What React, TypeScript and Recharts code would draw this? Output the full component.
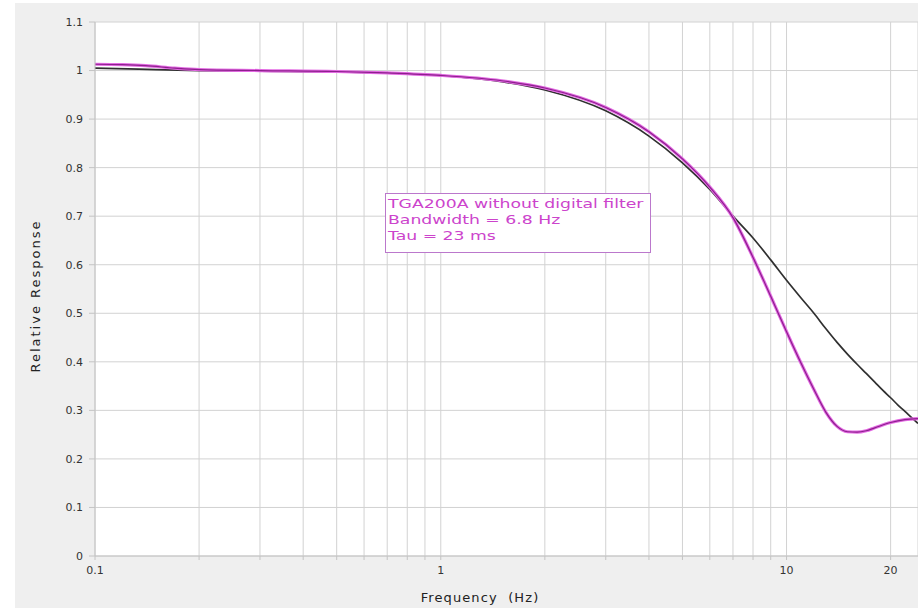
import { LineChart, Line, XAxis, YAxis, CartesianGrid, Label } from 'recharts';

// frequency (Hz) and relative response
const firstOrderFreq = [0.1, 0.15, 0.2, 0.3, 0.5, 0.7, 1, 1.5, 2, 3, 4, 5, 6, 7, 8, 9, 10, 11, 12, 13, 14, 15, 16, 17, 18, 19, 20, 21, 22, 23, 24];
const firstOrderResp = [1.005, 1.002, 1.0, 0.999, 0.997, 0.995, 0.99, 0.977, 0.96, 0.917, 0.865, 0.81, 0.755, 0.70, 0.655, 0.61, 0.568, 0.532, 0.50, 0.468, 0.44, 0.416, 0.395, 0.376, 0.358, 0.341, 0.326, 0.311, 0.298, 0.285, 0.273];

const tgaFreq = [0.1, 0.12, 0.14, 0.17, 0.2, 0.3, 0.5, 0.7, 1, 1.5, 2, 3, 4, 5, 6, 7, 8, 9, 10, 11, 12, 13, 14, 15, 16, 17, 18, 20, 22, 24];
const tgaResp = [1.013, 1.012, 1.01, 1.005, 1.002, 1.0, 0.998, 0.995, 0.99, 0.979, 0.964, 0.924, 0.874, 0.818, 0.76, 0.697, 0.615, 0.535, 0.462, 0.398, 0.343, 0.296, 0.267, 0.256, 0.255, 0.258, 0.264, 0.275, 0.281, 0.283];

const xTicks = [0.1, 0.2, 0.3, 0.4, 0.5, 0.6, 0.7, 0.8, 0.9, 1, 2, 3, 4, 5, 6, 7, 8, 9, 10, 20];
const xLabelled = [0.1, 1, 10, 20];
const yTicks = [0, 0.1, 0.2, 0.3, 0.4, 0.5, 0.6, 0.7, 0.8, 0.9, 1, 1.1];

const noteLines = ['TGA200A without digital filter', 'Bandwidth = 6.8 Hz', 'Tau = 23 ms'];

const firstOrder = firstOrderFreq.map((f, i) => ({ f, r: firstOrderResp[i] }));
const tga = tgaFreq.map((f, i) => ({ f, r: tgaResp[i] }));

const font = '"DejaVu Sans", sans-serif';
const tickStyle = { fontSize: 11, fill: '#333', fontFamily: font };

export default function App() {
  return (
    <div style={{ position: 'fixed', left: 0, top: 0, width: 918, height: 608, background: '#fff', overflow: 'hidden' }}>
      <div style={{ position: 'absolute', left: 15, top: 3, width: 903, height: 605, background: '#efefef' }} />
      <div style={{ position: 'absolute', left: 0, top: 0 }}>
        <LineChart width={918} height={608} margin={{ top: 22, right: 0, bottom: 0, left: 0 }}>
          <CartesianGrid fill="#fff" stroke="#d2d2d2" strokeWidth={1} />
          <XAxis
            dataKey="f"
            type="number"
            scale="log"
            domain={[0.1, 24]}
            allowDataOverflow
            ticks={xTicks}
            tickFormatter={(v: number) => (xLabelled.includes(v) ? String(v) : '')}
            height={52}
            tickSize={4}
            tickMargin={6}
            tick={tickStyle}
            stroke="#c4c4c4"
            interval={0}
          >
            <Label
              content={() => (
                <text x={480} y={602} textAnchor="middle" fontSize={13} fill="#222" fontFamily={font} letterSpacing={1.1}>
                  Frequency{'\u00a0 '}(Hz)
                </text>
              )}
            />
          </XAxis>
          <YAxis
            type="number"
            domain={[0, 1.1]}
            ticks={yTicks}
            width={95}
            tickSize={6}
            tickMargin={6}
            tick={tickStyle}
            stroke="#c4c4c4"
            interval={0}
          >
            <Label
              content={() => (
                <text
                  x={40}
                  y={296}
                  transform="rotate(-90 40 296)"
                  textAnchor="middle"
                  fontSize={13}
                  fill="#222"
                  fontFamily={font}
                  letterSpacing={2}
                >
                  Relative Response
                </text>
              )}
            />
          </YAxis>
          <Line data={firstOrder} dataKey="r" type="monotone" stroke="#303030" strokeWidth={1.7} dot={false} activeDot={false} isAnimationActive={false} />
          <Line data={tga} dataKey="r" type="monotone" stroke="#e36ae3" strokeWidth={3.2} dot={false} activeDot={false} isAnimationActive={false} />
          <Line data={tga} dataKey="r" type="monotone" stroke="#8e1f8e" strokeWidth={1.2} dot={false} activeDot={false} isAnimationActive={false} />
        </LineChart>
      </div>
      <div
        style={{
          position: 'absolute',
          left: 385,
          top: 193,
          width: 266,
          height: 60,
          border: '1px solid #bb78cc',
          background: '#fff',
          boxSizing: 'border-box',
          padding: '2px 0 0 2px',
          fontFamily: font,
          fontSize: 11.5,
          lineHeight: '16px',
          color: '#cc44cc',
          overflow: 'hidden',
        }}
      >
        {noteLines.map((t) => (
          <div key={t} style={{ transform: 'scaleX(1.5)', transformOrigin: 'left', whiteSpace: 'nowrap' }}>
            {t}
          </div>
        ))}
      </div>
    </div>
  );
}
